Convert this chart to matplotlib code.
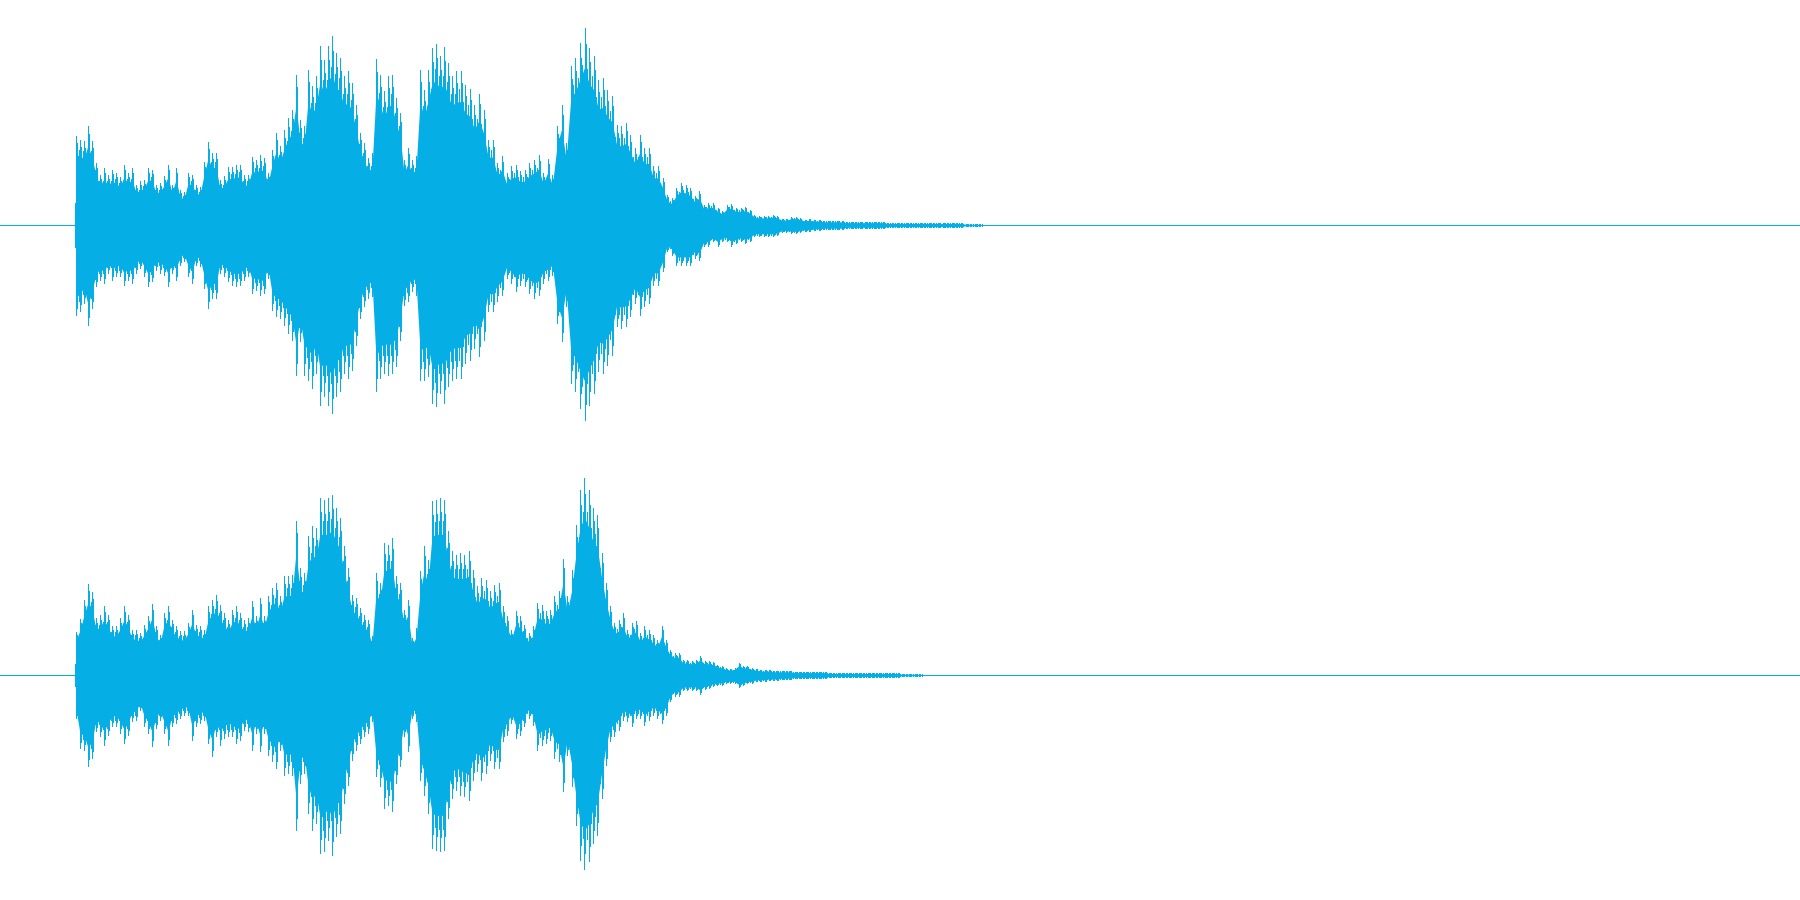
import numpy as np
from matplotlib import pyplot as plt

width = 1800
colour = "#06aee6"

# peak amplitude per column group, read in two stretches for each channel
ch1_top = [89, 85, 84, 99, 84, 62, 50, 57, 50, 55, 52, 48, 60, 52, 57, 40,
           44, 45, 57, 55, 40, 42, 49, 60, 40, 57, 35, 33, 52, 50, 40, 38,
           63, 83, 72, 72, 45, 49, 58, 58, 60, 60, 50, 50, 68, 65, 70, 67,
           52, 75, 92, 79, 95, 107, 115, 150, 105, 99, 155, 139, 149, 179, 165, 179,
           189, 172, 167, 149, 154, 142, 120, 92, 82, 67, 72, 166, 150, 134, 149, 150,
           127, 112, 65, 77, 65, 69, 155, 135, 155, 177, 181, 169, 178, 162, 149, 154]
ch1_top_tail = [154, 140,
                136, 120, 131, 115, 85, 85, 62, 69, 52, 59, 60, 54, 55, 62, 65, 70,
                52, 66, 50, 99, 120, 82, 159, 167, 182, 197, 177, 169, 145, 147, 135, 129,
                100, 99, 102, 90, 77, 90, 77, 77, 59, 59, 47, 30, 27, 37, 42, 40,
                37, 29, 34, 20, 22, 22, 17, 14, 20, 21, 17, 17, 18, 15, 10, 9,
                9, 9, 10, 9, 6, 6, 8, 8, 7, 5, 6, 5, 5, 4, 4, 4,
                4, 4, 3, 3, 3, 3, 3, 3, 3, 3, 3, 2, 2, 2, 2, 2, 2, 2, 2, 2, 2, 2,
                2, 2, 2, 2, 2, 2, 1, 1, 1, 1]
ch1_bot = [90, 86, 78, 100, 83, 61, 55, 58, 48, 55, 51, 51, 60, 55, 58, 48,
           43, 51, 61, 56, 45, 48, 50, 61, 48, 55, 40, 36, 51, 58, 40, 41,
           63, 83, 73, 73, 48, 51, 56, 60, 61, 60, 55, 51, 68, 65, 70, 68,
           53, 85, 91, 93, 100, 108, 115, 150, 116, 150, 155, 163, 148, 180, 171, 180,
           188, 171, 166, 148, 153, 145, 120, 93, 81, 73, 71, 166, 153, 148, 150, 148,
           141, 115, 80, 76, 66, 70, 155, 155, 151, 178, 181, 168, 178, 161, 155, 153]
ch1_bot_tail = [153, 138,
                135, 123, 131, 115, 86, 86, 76, 70, 53, 58, 66, 60, 61, 68, 73, 70,
                58, 55, 50, 98, 116, 81, 158, 166, 183, 195, 180, 168, 146, 148, 140, 130,
                101, 103, 101, 91, 78, 90, 81, 78, 60, 60, 46, 26, 30, 40, 40, 40,
                40, 33, 35, 21, 21, 16, 21, 16, 16, 21, 18, 16, 18, 16, 11, 11,
                11, 11, 11, 10, 7, 7, 8, 8, 7, 6, 6, 5, 5, 4, 4, 4,
                4, 4, 3, 3, 3, 3, 3, 3, 3, 3, 3, 2, 2, 2, 2, 2, 2, 2, 2, 2, 2, 2,
                2, 2, 2, 2, 2, 2, 1, 1, 1, 1]
ch2_top = [43, 56, 75, 91, 83, 57, 60, 69, 60, 49, 49, 57, 69, 60, 45, 45,
           42, 50, 59, 71, 49, 40, 62, 69, 55, 49, 44, 44, 52, 65, 50, 49,
           45, 69, 75, 80, 70, 62, 55, 65, 69, 62, 55, 57, 74, 59, 77, 59,
           79, 87, 92, 79, 99, 99, 100, 154, 107, 102, 139, 149, 147, 177, 175, 177,
           180, 167, 157, 129, 107, 80, 77, 67, 60, 55, 39, 102, 92, 132, 130, 137,
           99, 92, 65, 75, 37, 47, 104, 129, 115, 174, 175, 177, 175, 144, 124, 120]
ch2_top_tail = [122,
                120, 124, 105, 89, 97, 95, 84, 90, 92, 69, 59, 45, 64, 59, 50, 42,
                49, 72, 70, 64, 65, 79, 84, 116, 79, 105, 150, 185, 197, 185, 167, 160,
                122, 92, 69, 52, 55, 62, 45, 52, 54, 42, 49, 45, 40, 35, 49, 35,
                25, 22, 22, 15, 15, 14, 15, 19, 14, 14, 13, 10, 9, 7, 6, 7,
                12, 9, 9, 7, 6, 5, 5, 5, 4, 4, 4, 4, 4, 3, 3, 3,
                3, 3, 3, 3, 3, 2, 2, 2, 2, 2, 2, 2, 2, 2, 2, 2, 2, 2, 2, 2, 2,
                2, 1, 1, 1, 1, 1]
ch2_bot = [43, 73, 75, 91, 83, 56, 61, 70, 60, 51, 51, 58, 68, 60, 46, 45,
           35, 51, 58, 71, 53, 45, 58, 70, 51, 48, 43, 40, 40, 65, 51, 48,
           45, 68, 81, 61, 70, 63, 61, 61, 68, 65, 55, 56, 75, 58, 76, 58,
           80, 86, 93, 75, 100, 98, 100, 155, 108, 98, 138, 155, 148, 178, 176, 165,
           180, 161, 158, 128, 110, 85, 75, 68, 61, 58, 46, 101, 111, 133, 130, 136,
           108, 91, 61, 76, 43, 46, 105, 120, 138, 173, 175, 176, 175, 143, 123, 115]
ch2_bot_tail = [120,
                121, 125, 105, 96, 105, 98, 85, 93, 93, 66, 60, 48, 63, 60, 51, 43,
                50, 75, 70, 68, 65, 83, 86, 116, 80, 111, 150, 185, 194, 186, 168, 160,
                123, 90, 66, 61, 55, 45, 46, 51, 43, 43, 50, 45, 40, 43, 48, 40,
                26, 21, 21, 15, 15, 15, 15, 19, 14, 13, 11, 10, 10, 8, 8, 8,
                12, 10, 8, 8, 6, 6, 6, 5, 5, 5, 4, 4, 4, 3, 3, 3,
                3, 3, 3, 3, 3, 2, 2, 2, 2, 2, 2, 2, 2, 2, 2, 2, 2, 2, 2, 2, 2,
                2, 1, 1, 1, 1, 1]

channels = [(ch1_top, ch1_top_tail, ch1_bot, ch1_bot_tail, 460.6, 4.59, 22),
            (ch2_top, ch2_top_tail, ch2_bot, ch2_bot_tail, 460.0, 4.29, 11)]

fig = plt.figure(figsize=(18, 9), dpi=100)

for i, (top1, top2, bot1, bot2, x_tail, step_tail, start) in enumerate(channels):
    ax = fig.add_axes([0, 0.5 - 0.5*i, 1, 0.5])
    ax.set_xlim(0, width)
    ax.set_ylim(-225, 225)
    ax.axis("off")

    x = np.concatenate([76 + 4*np.arange(len(top1)), x_tail + step_tail*np.arange(len(top2))])
    top = np.array(top1 + top2)
    bot = np.array(bot1 + bot2)

    ax.axhline(0, c=colour, lw=0.72, antialiased=False)

    # solid core, then one-pixel spikes reaching the peaks
    ax.fill_between(x, -0.8*bot, 0.8*top, color=colour, lw=0, antialiased=False)
    ax.vlines(x, -bot, top, colors=colour, lw=0.72, antialiased=False)
    ax.vlines(x + 1, -0.92*bot, 0.92*top, colors=colour, lw=0.72, antialiased=False)
    ax.vlines(x + 2.5, -0.88*np.minimum(bot, np.roll(bot, -1)), 0.88*np.minimum(top, np.roll(top, -1)),
              colors=colour, lw=0.72, antialiased=False)
    ax.vlines(75, -start, start, colors=colour, lw=0.72, antialiased=False)

fig.savefig("out.png", dpi=100)
plt.close()
